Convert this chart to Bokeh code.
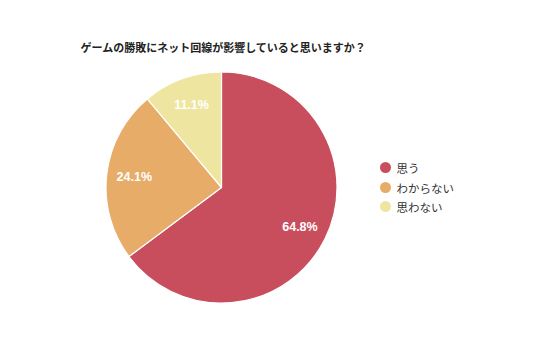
import math
from bokeh.plotting import figure
from bokeh.models import Range1d, ColumnDataSource
from bokeh.core.properties import value
from bokeh.embed import file_html
from bokeh.resources import INLINE

title = "ゲームの勝敗にネット回線が影響していると思いますか？"
categories = ["思う", "わからない", "思わない"]
values = [64.8, 24.1, 11.1]
labels = ["64.8%", "24.1%", "11.1%"]
colors = ["#C84E5D", "#E8AC69", "#EEE6A0"]

W, H = 536, 357
p = figure(width=W, height=H, output_backend="svg", toolbar_location=None,
           x_range=Range1d(0, W), y_range=Range1d(0, H), min_border=0)
p.axis.visible = False
p.grid.visible = False
p.outline_line_color = None
p.background_fill_color = "white"
p.border_fill_color = "white"

cx, cy, r = 221, H - 187, 115.5
total = sum(values)
starts, ends, lx, ly = [], [], [], []
cum = 0.0
for v in values:
    f0 = cum / total
    f1 = (cum + v) / total
    starts.append(math.pi / 2 - 2 * math.pi * f1)
    ends.append(math.pi / 2 - 2 * math.pi * f0)
    mid = math.pi / 2 - 2 * math.pi * (f0 + f1) / 2
    lx.append(cx + 0.76 * r * math.cos(mid))
    ly.append(cy + 0.76 * r * math.sin(mid))
    cum += v

src = ColumnDataSource(dict(start=starts, end=ends, color=colors, lx=lx, ly=ly, label=labels))
p.wedge(x=cx, y=cy, radius=r, start_angle="start", end_angle="end", fill_color="color",
        line_color="white", line_width=1.2, source=src)
p.text(x="lx", y="ly", text="label", source=src, text_color="white",
       text_font=value("Liberation Sans"), text_font_style="bold", text_font_size="12.5px",
       text_align="center", text_baseline="middle")

p.text(x=[80], y=[H - 46], text=[title], text_font=value("Noto Sans CJK JP"),
       text_font_style="bold", text_font_size="11px", text_color="#222222",
       text_baseline="middle")

leg_y = [H - 167, H - 187, H - 206]
p.scatter(x=[385] * 3, y=leg_y, size=11, marker="circle", fill_color=colors, line_color=None)
p.text(x=[396] * 3, y=leg_y, text=categories, text_font=value("Noto Sans CJK JP"),
       text_font_size="11.5px", text_color="#333333", text_baseline="middle")

open("out.html", "w").write(file_html(p, INLINE))
